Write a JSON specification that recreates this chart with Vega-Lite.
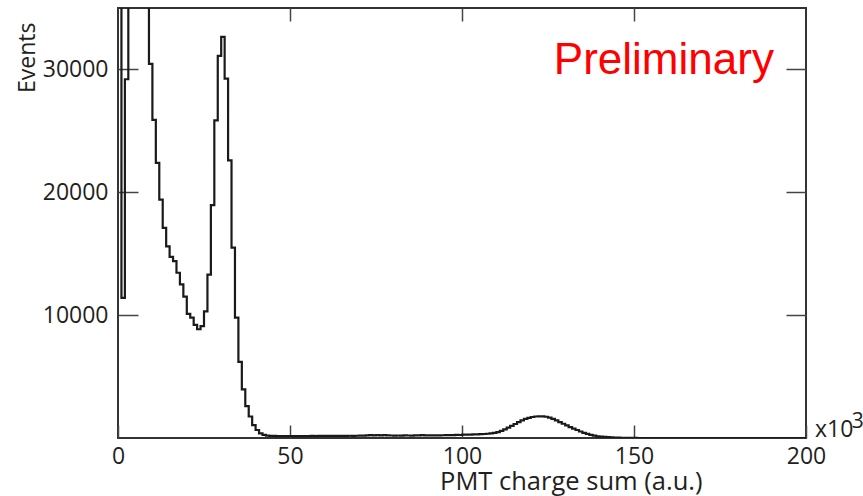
{
  "$schema": "https://vega.github.io/schema/vega-lite/v6.json",
  "width": 688,
  "height": 430,
  "autosize": {"type": "none"},
  "padding": {"left": 118, "top": 8, "right": 57, "bottom": 58},
  "background": "white",
  "config": {
    "view": {"stroke": "#333333", "strokeWidth": 2},
    "axis": {"domain": false, "grid": false, "tickColor": "#444444", "tickWidth": 1.5, "labelFont": "Open Sans", "labelFontSize": 23, "labelColor": "#231f20", "titleFont": "Open Sans", "titleFontSize": 23, "titleFontWeight": "normal", "titleColor": "#231f20"}
  },
  "datasets": {
    "hist": [
      {"x":0,"count":50000},{"x":1,"count":11400},{"x":2,"count":29200},{"x":3,"count":50000},{"x":4,"count":60000},
      {"x":5,"count":60000},{"x":6,"count":55000},{"x":7,"count":45000},{"x":8,"count":38000},{"x":9,"count":30450},
      {"x":10,"count":25900},{"x":11,"count":22400},{"x":12,"count":19400},{"x":13,"count":17100},{"x":14,"count":15600},
      {"x":15,"count":14750},{"x":16,"count":14400},{"x":17,"count":13450},{"x":18,"count":12500},{"x":19,"count":11500},
      {"x":20,"count":10100},{"x":21,"count":9800},{"x":22,"count":9200},{"x":23,"count":8850},{"x":24,"count":9100},
      {"x":25,"count":10300},{"x":26,"count":13300},{"x":27,"count":18950},{"x":28,"count":25850},{"x":29,"count":31100},
      {"x":30,"count":32650},{"x":31,"count":29250},{"x":32,"count":22600},{"x":33,"count":15500},{"x":34,"count":9800},
      {"x":35,"count":6200},{"x":36,"count":3950},{"x":37,"count":2600},{"x":38,"count":1750},{"x":39,"count":1050},
      {"x":40,"count":650},{"x":41,"count":380},{"x":42,"count":260},{"x":43,"count":200},{"x":44,"count":180},
      {"x":45,"count":170},{"x":46,"count":160},{"x":47,"count":155},{"x":48,"count":150},{"x":49,"count":150},
      {"x":50,"count":150},{"x":51,"count":155},{"x":52,"count":150},{"x":53,"count":155},{"x":54,"count":160},
      {"x":55,"count":160},{"x":56,"count":165},{"x":57,"count":160},{"x":58,"count":170},{"x":59,"count":165},
      {"x":60,"count":170},{"x":61,"count":175},{"x":62,"count":170},{"x":63,"count":175},{"x":64,"count":180},
      {"x":65,"count":175},{"x":66,"count":180},{"x":67,"count":185},{"x":68,"count":180},{"x":69,"count":185},
      {"x":70,"count":190},{"x":71,"count":195},{"x":72,"count":210},{"x":73,"count":230},{"x":74,"count":215},
      {"x":75,"count":240},{"x":76,"count":220},{"x":77,"count":235},{"x":78,"count":215},{"x":79,"count":205},
      {"x":80,"count":200},{"x":81,"count":205},{"x":82,"count":200},{"x":83,"count":210},{"x":84,"count":205},
      {"x":85,"count":200},{"x":86,"count":210},{"x":87,"count":215},{"x":88,"count":235},{"x":89,"count":215},
      {"x":90,"count":210},{"x":91,"count":215},{"x":92,"count":220},{"x":93,"count":215},{"x":94,"count":225},
      {"x":95,"count":230},{"x":96,"count":240},{"x":97,"count":235},{"x":98,"count":250},{"x":99,"count":245},
      {"x":100,"count":270},{"x":101,"count":275},{"x":102,"count":280},{"x":103,"count":290},{"x":104,"count":300},
      {"x":105,"count":310},{"x":106,"count":325},{"x":107,"count":345},{"x":108,"count":370},{"x":109,"count":410},
      {"x":110,"count":480},{"x":111,"count":580},{"x":112,"count":700},{"x":113,"count":840},{"x":114,"count":990},
      {"x":115,"count":1140},{"x":116,"count":1290},{"x":117,"count":1430},{"x":118,"count":1550},{"x":119,"count":1640},
      {"x":120,"count":1710},{"x":121,"count":1750},{"x":122,"count":1760},{"x":123,"count":1755},{"x":124,"count":1730},
      {"x":125,"count":1660},{"x":126,"count":1560},{"x":127,"count":1440},{"x":128,"count":1300},{"x":129,"count":1160},
      {"x":130,"count":1020},{"x":131,"count":890},{"x":132,"count":770},{"x":133,"count":650},{"x":134,"count":530},
      {"x":135,"count":420},{"x":136,"count":330},{"x":137,"count":250},{"x":138,"count":190},{"x":139,"count":140},
      {"x":140,"count":110},{"x":141,"count":90},{"x":142,"count":70},{"x":143,"count":50},{"x":144,"count":35},
      {"x":145,"count":25},{"x":146,"count":15},{"x":147,"count":10},{"x":148,"count":6},{"x":149,"count":4},
      {"x":150,"count":3},{"x":151,"count":2},{"x":152,"count":2},{"x":153,"count":1},{"x":154,"count":1},
      {"x":155,"count":1},{"x":156,"count":0},{"x":157,"count":1},{"x":158,"count":0},{"x":159,"count":0},
      {"x":160,"count":0},{"x":161,"count":0},{"x":162,"count":0},{"x":163,"count":0},{"x":164,"count":0},
      {"x":165,"count":0},{"x":166,"count":0},{"x":167,"count":0},{"x":168,"count":0},{"x":169,"count":0},
      {"x":170,"count":0},{"x":171,"count":0},{"x":172,"count":0},{"x":173,"count":0},{"x":174,"count":0},
      {"x":175,"count":0},{"x":176,"count":0},{"x":177,"count":0},{"x":178,"count":0},{"x":179,"count":0},
      {"x":180,"count":0},{"x":181,"count":0},{"x":182,"count":0},{"x":183,"count":0},{"x":184,"count":0},
      {"x":185,"count":0},{"x":186,"count":0},{"x":187,"count":0},{"x":188,"count":0},{"x":189,"count":0},
      {"x":190,"count":0},{"x":191,"count":0},{"x":192,"count":0},{"x":193,"count":0},{"x":194,"count":0},
      {"x":195,"count":0},{"x":196,"count":0},{"x":197,"count":0},{"x":198,"count":0},{"x":199,"count":0},
      {"x":200,"count":0}
    ]
  },
  "layer": [
    {
      "data": {"name": "hist"},
      "mark": {"type": "line", "interpolate": "step-after", "clip": true, "stroke": "#1a1a1a", "strokeWidth": 2.2},
      "encoding": {
        "x": {"field": "x", "type": "quantitative", "scale": {"domain": [0, 200], "nice": false, "zero": false},
              "axis": {"orient": "bottom", "values": [0, 50, 100, 150, 200], "tickSize": -13, "labelPadding": 20, "labelBaseline": "top", "labelFlush": false,
                       "title": "PMT charge sum (a.u.)", "titleFontSize": 25.5, "titleAnchor": null, "titleAlign": "right", "titleBaseline": "alphabetic", "titleX": 584, "titleY": 51}},
        "y": {"field": "count", "type": "quantitative", "scale": {"domain": [0, 35000], "nice": false},
              "axis": {"orient": "left", "values": [10000, 20000, 30000], "tickSize": -20, "labelPadding": 30, "labelBaseline": "middle", "format": "d",
                       "title": "Events", "titleAngle": -90, "titleAlign": "right", "titleBaseline": "alphabetic", "titleX": -84, "titleY": 14}}
      }
    },
    {
      "data": {"name": "hist"},
      "mark": {"type": "line", "interpolate": "step-after", "clip": true, "opacity": 0},
      "encoding": {
        "x": {"field": "x", "type": "quantitative", "axis": {"orient": "top", "values": [50, 100, 150], "tickSize": -13, "labels": false, "title": null}},
        "y": {"field": "count", "type": "quantitative", "axis": {"orient": "right", "values": [10000, 20000, 30000], "tickSize": -20, "labels": false, "title": null}}
      }
    },
    {
      "data": {"values": [{}]},
      "mark": {"type": "text", "text": "Preliminary", "font": "Liberation Sans", "fontSize": 44, "color": "#ff0000", "align": "left", "baseline": "alphabetic"},
      "encoding": {
        "x": {"datum": 126.7, "type": "quantitative", "axis": null},
        "y": {"datum": 29630, "type": "quantitative", "axis": null}
      }
    },
    {
      "data": {"values": [{}]},
      "mark": {"type": "text", "text": "x10", "font": "Open Sans", "fontSize": 23, "color": "#231f20", "align": "left", "baseline": "alphabetic"},
      "encoding": {
        "x": {"datum": 202.6, "type": "quantitative", "axis": null},
        "y": {"datum": 80, "type": "quantitative", "axis": null}
      }
    },
    {
      "data": {"values": [{}]},
      "mark": {"type": "text", "text": "3", "font": "Open Sans", "fontSize": 21, "color": "#231f20", "align": "left", "baseline": "alphabetic"},
      "encoding": {
        "x": {"datum": 213.3, "type": "quantitative", "axis": null},
        "y": {"datum": 814, "type": "quantitative", "axis": null}
      }
    }
  ],
  "resolve": {"axis": {"x": "independent", "y": "independent"}}
}
